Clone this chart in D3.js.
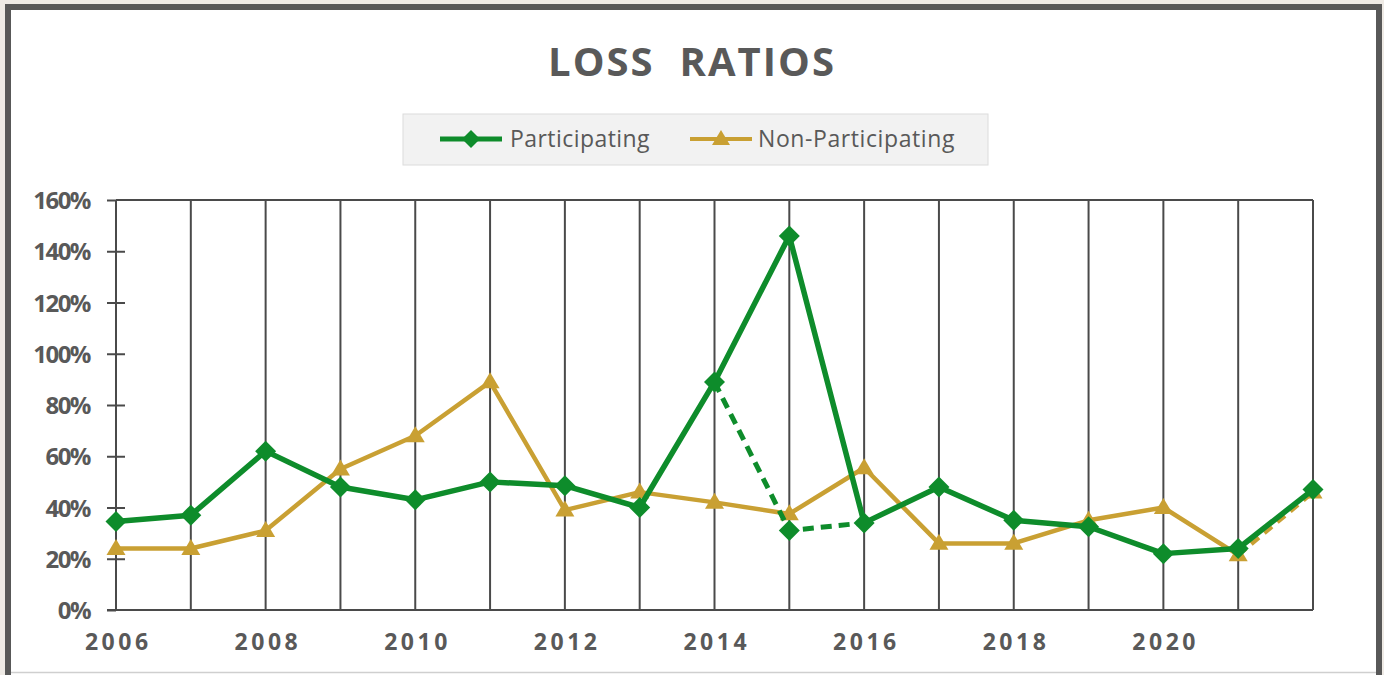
<!DOCTYPE html>
<html>
<head>
<meta charset="utf-8">
<script src="https://cdn.jsdelivr.net/npm/d3@7"></script>
<style>
  html, body { margin: 0; padding: 0; background: #eeeae5; }
  svg { display: block; }
</style>
</head>
<body>
<svg id="chart" width="1384" height="675"></svg>
<script>
// ---- data ----
const years = [2006,2007,2008,2009,2010,2011,2012,2013,2014,2015,2016,2017,2018,2019,2020,2021,2022];
const participating    = [0.345,0.37,0.62,0.48,0.43,0.50,0.485,0.40,0.89,1.46,0.34,0.48,0.35,0.325,0.22,0.24,0.47];
const nonParticipating = [0.24,0.24,0.31,0.55,0.68,0.89,0.39,0.46,0.42,0.375,0.555,0.26,0.26,0.35,0.40,0.215,0.46];
// alternate (dashed) path for Participating
const participatingAltYears  = [2014, 2015, 2016];
const participatingAltValues = [0.89, 0.31, 0.34];
// dashed segment for Non-Participating
const nonPartDashedYears = [2021, 2022];
const yTicks = [0,0.2,0.4,0.6,0.8,1.0,1.2,1.4,1.6];
const xTickLabels = [2006,2008,2010,2012,2014,2016,2018,2020];
const seriesNames = ["Participating","Non-Participating"];

const GREEN = "#0e8c2b", GOLD = "#c9a033", TEXT = "#595959", GRID = "#4a4a4a";

const svg = d3.select("#chart");

function fitWidth(t, target){
  const n = t.text().length;
  t.style("letter-spacing", "0px");
  const w = t.node().getComputedTextLength();
  t.style("letter-spacing", ((target - w) / n) + "px");
}

// frame
svg.append("rect").attr("x", 8).attr("y", 7).attr("width", 1371).attr("height", 720)
  .attr("fill", "#ffffff").attr("stroke", "#585858").attr("stroke-width", 6);
svg.append("line").attr("x1", 11).attr("x2", 1376).attr("y1", 672.5).attr("y2", 672.5)
  .attr("stroke", "#cfcfcf").attr("stroke-width", 1.5);

const x = d3.scaleLinear().domain([2006, 2022]).range([116, 1313]);
const y = d3.scaleLinear().domain([0, 1.6]).range([610, 200]);

// title
const title = svg.append("text").attr("x", 692).attr("y", 76)
  .attr("text-anchor", "middle").attr("fill", TEXT)
  .style("font-family", "'Open Sans', sans-serif").style("font-weight", 700)
  .style("font-size", "40px").style("white-space", "pre")
  .text("LOSS  RATIOS");
fitWidth(title, 288);

// legend
const lg = svg.append("g");
lg.append("rect").attr("x", 403).attr("y", 114).attr("width", 585).attr("height", 51)
  .attr("fill", "#f2f2f2").attr("stroke", "#dcdcdc").attr("stroke-width", 1);

function diamond(cx, cy, r) { return `M${cx},${cy-r}L${cx+r},${cy}L${cx},${cy+r}L${cx-r},${cy}Z`; }
function triangle(cx, cy, w, h) { return `M${cx},${cy-h*0.6}L${cx+w/2},${cy+h*0.4}L${cx-w/2},${cy+h*0.4}Z`; }

const legendItems = [
  {name: seriesNames[0], x0: 440, color: GREEN, shape: "d", tx: 510, tw: 140},
  {name: seriesNames[1], x0: 690, color: GOLD, shape: "t", tx: 758, tw: 197}
];
legendItems.forEach(it => {
  lg.append("line").attr("x1", it.x0).attr("x2", it.x0 + 62).attr("y1", 139).attr("y2", 139)
    .attr("stroke", it.color).attr("stroke-width", it.shape === "d" ? 5 : 4);
  lg.append("path").attr("d", it.shape === "d" ? diamond(it.x0 + 31, 139, 9) : triangle(it.x0 + 31, 139, 18, 15))
    .attr("fill", it.color);
  const t = lg.append("text").attr("x", it.tx).attr("y", 147).attr("fill", TEXT)
    .style("font-family", "'Open Sans', sans-serif").style("font-size", "23px")
    .text(it.name);
  fitWidth(t, it.tw);
});

// vertical gridlines at every year
svg.append("g").selectAll("line").data(years).join("line")
  .attr("x1", d => x(d)).attr("x2", d => x(d))
  .attr("y1", y(1.6)).attr("y2", y(0))
  .attr("stroke", GRID).attr("stroke-width", 2);
// top border
svg.append("line").attr("x1", x(2006)).attr("x2", x(2022)).attr("y1", y(1.6)).attr("y2", y(1.6))
  .attr("stroke", GRID).attr("stroke-width", 2);

// y axis
const yAxis = svg.append("g").attr("transform", `translate(${x(2006)},0)`)
  .call(d3.axisLeft(y).tickValues(yTicks).tickFormat(d3.format(".0%")).tickSize(8).tickPadding(18));
yAxis.select(".domain").remove();
yAxis.selectAll(".tick line").attr("x1", -9).attr("x2", 9).attr("stroke", GRID).attr("stroke-width", 2);
yAxis.selectAll(".tick").filter(d => d === 1.6 || d === 0).select("line").attr("x2", 0);
yAxis.selectAll("text").attr("fill", TEXT)
  .style("font-family", "'Open Sans', sans-serif").style("font-weight", 700).style("font-size", "24px")
  .style("letter-spacing", "-1.5px").attr("dy", "0.36em");

// x axis
const xAxis = svg.append("g").attr("transform", `translate(0,${y(0)})`)
  .call(d3.axisBottom(x).tickValues(xTickLabels).tickFormat(d3.format("d")).tickSize(0).tickPadding(24));
xAxis.select(".domain").remove();
xAxis.selectAll("text").attr("fill", TEXT)
  .style("font-family", "'Open Sans', sans-serif").style("font-weight", 700).style("font-size", "23px")
  .style("letter-spacing", "3.5px").attr("dx", "1.75px");
svg.append("line").attr("x1", 107).attr("x2", x(2022)).attr("y1", y(0)).attr("y2", y(0))
  .attr("stroke", GRID).attr("stroke-width", 2);

// series
const line = d3.line().x(d => x(d[0])).y(d => y(d[1]));
const partPts = years.map((yr, i) => [yr, participating[i]]);
const nonPts = years.map((yr, i) => [yr, nonParticipating[i]]);
const nonSolid = nonPts.filter(p => p[0] <= nonPartDashedYears[0]);
const nonDash = nonPts.filter(p => p[0] >= nonPartDashedYears[0] && p[0] <= nonPartDashedYears[1]);
const altPts = participatingAltYears.map((yr, i) => [yr, participatingAltValues[i]]);

// Non-Participating
svg.append("path").datum(nonSolid).attr("d", line).attr("fill", "none")
  .attr("stroke", GOLD).attr("stroke-width", 4.5).attr("stroke-linejoin", "round");
svg.append("path").datum(nonDash).attr("d", line).attr("fill", "none")
  .attr("stroke", GOLD).attr("stroke-width", 4.5).attr("stroke-dasharray", "10,7");
svg.append("g").selectAll("path").data(nonPts).join("path")
  .attr("d", d => triangle(x(d[0]), y(d[1]), 19, 16)).attr("fill", GOLD);

// Participating
svg.append("path").datum(altPts).attr("d", line).attr("fill", "none")
  .attr("stroke", GREEN).attr("stroke-width", 5).attr("stroke-dasharray", "11,7");
svg.append("path").datum(partPts).attr("d", line).attr("fill", "none")
  .attr("stroke", GREEN).attr("stroke-width", 5.5).attr("stroke-linejoin", "round");
svg.append("g").selectAll("path").data(partPts.concat([altPts[1]])).join("path")
  .attr("d", d => diamond(x(d[0]), y(d[1]), 10.5)).attr("fill", GREEN);
</script>
</body>
</html>
